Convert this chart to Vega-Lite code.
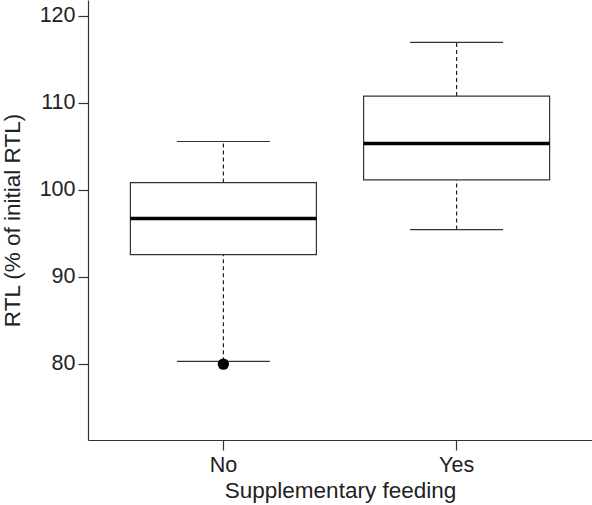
{
  "$schema": "https://vega.github.io/schema/vega-lite/v6.json",
  "autosize": "none",
  "padding": {"left": 88, "top": 0, "right": 0, "bottom": 65},
  "width": 504,
  "height": 440,
  "background": "white",
  "config": {
    "view": {"stroke": null},
    "font": "Liberation Sans",
    "axis": {
      "grid": false,
      "domainColor": "#333333",
      "domainWidth": 1.2,
      "tickColor": "#333333",
      "tickWidth": 1.2,
      "tickSize": 10,
      "labelFont": "Liberation Sans",
      "labelFontSize": 21.5,
      "labelColor": "#222222",
      "titleFont": "Liberation Sans",
      "titleFontSize": 22.5,
      "titleFontWeight": "normal",
      "titleColor": "#222222"
    }
  },
  "datasets": {
    "boxes": [
      {"feeding": "No", "lo": 80.27, "q1": 92.55, "median": 96.7, "q3": 100.84, "hi": 105.56},
      {"feeding": "Yes", "lo": 95.43, "q1": 101.15, "median": 105.33, "q3": 110.79, "hi": 116.96}
    ],
    "outliers": [
      {"feeding": "No", "value": 79.95}
    ]
  },
  "encoding": {
    "x": {
      "field": "feeding",
      "type": "nominal",
      "scale": {"type": "band", "paddingInner": 0.2024, "paddingOuter": 0.1818},
      "axis": {"title": "Supplementary feeding", "labelAngle": 0, "labelPadding": 4, "titlePadding": 4}
    }
  },
  "layer": [
    {
      "data": {"name": "boxes"},
      "mark": {"type": "rule", "strokeDash": [4, 3], "color": "#222222", "strokeWidth": 1.2},
      "encoding": {
        "y": {
          "field": "lo",
          "type": "quantitative",
          "scale": {"domain": [71.22, 121.84], "nice": false, "zero": false},
          "axis": {"title": "RTL (% of initial RTL)", "values": [80, 90, 100, 110, 120], "labelPadding": 3, "titlePadding": 15}
        },
        "y2": {"field": "q1"}
      }
    },
    {
      "data": {"name": "boxes"},
      "mark": {"type": "rule", "strokeDash": [4, 3], "color": "#222222", "strokeWidth": 1.2},
      "encoding": {
        "y": {"field": "q3", "type": "quantitative"},
        "y2": {"field": "hi"}
      }
    },
    {
      "data": {"name": "boxes"},
      "mark": {"type": "bar", "fill": "white", "stroke": "#333333", "strokeWidth": 1.2},
      "encoding": {
        "y": {"field": "q1", "type": "quantitative"},
        "y2": {"field": "q3"}
      }
    },
    {
      "data": {"name": "boxes"},
      "mark": {"type": "tick", "color": "#000000", "size": 186, "thickness": 3.5, "opacity": 1},
      "encoding": {
        "y": {"field": "median", "type": "quantitative"}
      }
    },
    {
      "data": {"name": "boxes"},
      "mark": {"type": "tick", "color": "#333333", "size": 93, "thickness": 1.2, "opacity": 1},
      "encoding": {
        "y": {"field": "lo", "type": "quantitative"}
      }
    },
    {
      "data": {"name": "boxes"},
      "mark": {"type": "tick", "color": "#333333", "size": 93, "thickness": 1.2, "opacity": 1},
      "encoding": {
        "y": {"field": "hi", "type": "quantitative"}
      }
    },
    {
      "data": {"name": "outliers"},
      "mark": {"type": "point", "filled": true, "color": "#000000", "size": 130, "opacity": 1},
      "encoding": {
        "y": {"field": "value", "type": "quantitative"}
      }
    }
  ]
}
